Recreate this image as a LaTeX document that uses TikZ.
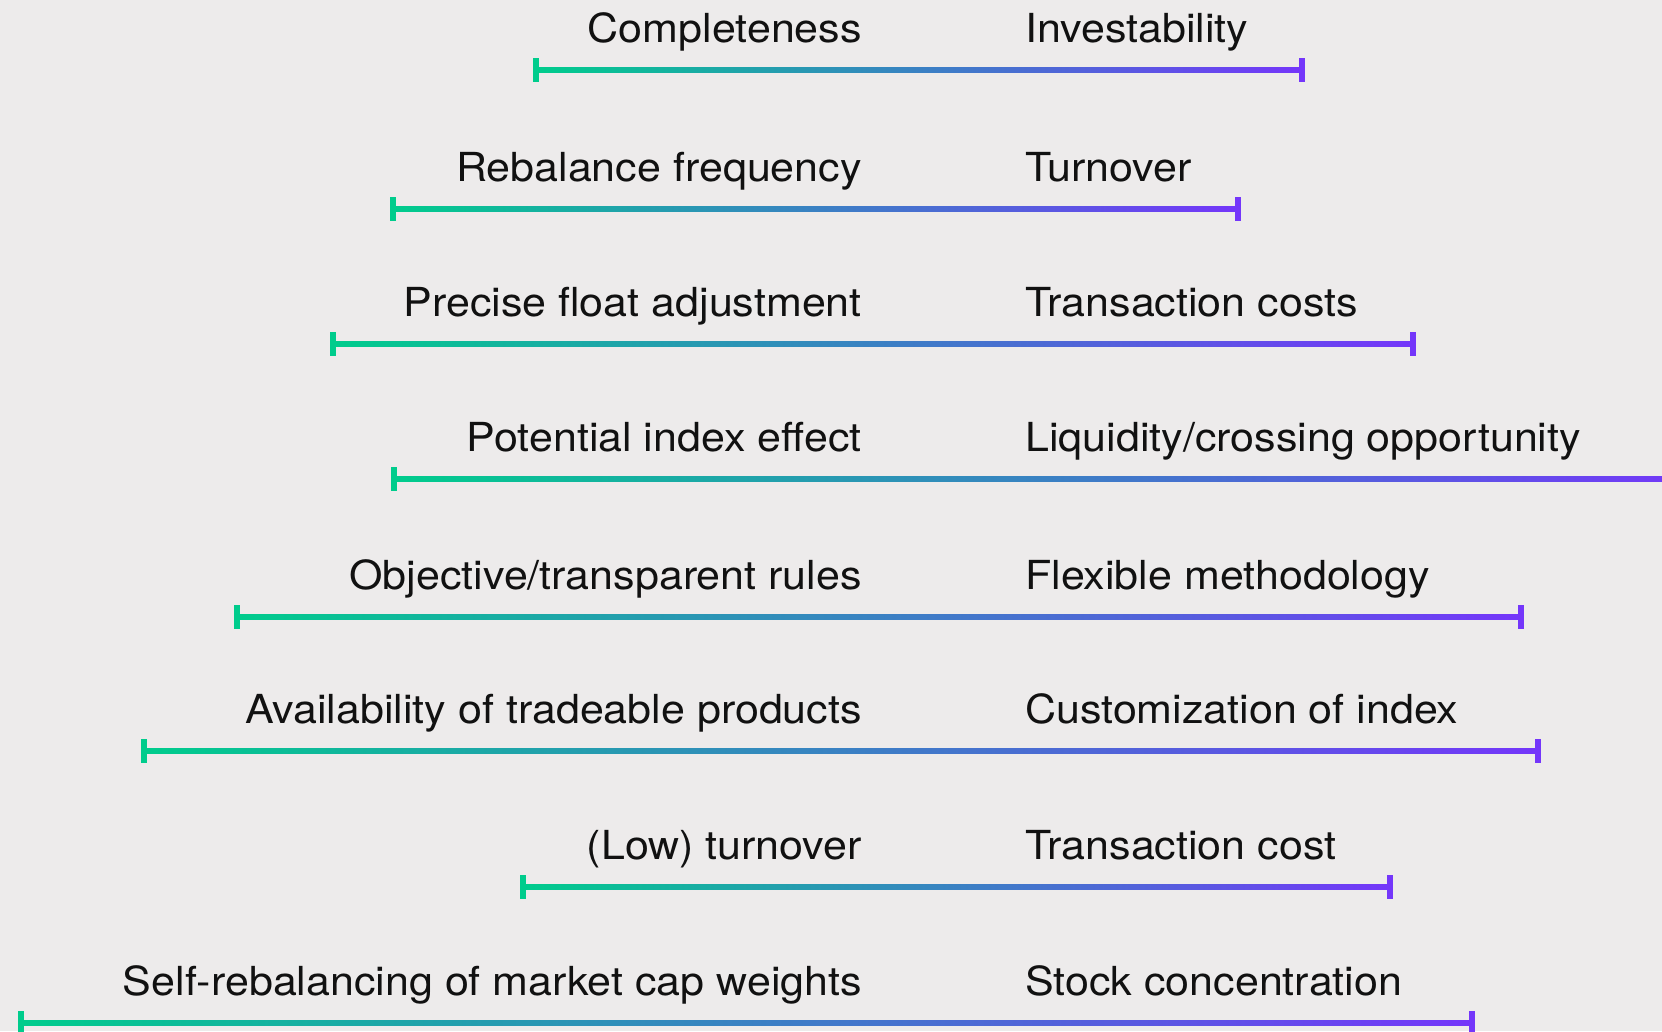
\documentclass[tikz,border=0pt]{standalone}
\usepackage{fontspec}
\setmainfont{TeX Gyre Heros}[FakeStretch=1.075]
\definecolor{bg}{HTML}{EDEBEB}
\definecolor{gstart}{HTML}{00CC8C}
\definecolor{gend}{HTML}{7436FA}
\definecolor{ink}{HTML}{111111}
\tikzset{
  lbl/.style={inner sep=0pt, text=ink, font=\fontsize{40}{40}\selectfont},
  leftlbl/.style={lbl, anchor=base east},
  rightlbl/.style={lbl, anchor=base west},
}
\begin{document}
\begin{tikzpicture}[x=1pt,y=-1pt]
\fill[bg] (0,0) rectangle (1662,1031);
\useasboundingbox (0,0) rectangle (1662,1031);
\foreach \i/\y/\xa/\xb/\lt/\rt in {
 1/70/536/1302/{Completeness}/{Investability},
 2/209/393/1238/{Rebalance frequency}/{Turnover},
 3/344/333/1413/{Precise float adjustment}/{Transaction costs},
 4/479/394/1700/{Potential index effect}/{Liquidity/crossing opportunity},
 5/617/237/1521/{Objective/transparent rules}/{Flexible methodology},
 6/751/144/1538/{Availability of tradeable products}/{Customization of index},
 7/887/523/1390/{(Low) turnover}/{Transaction cost},
 8/1023/21/1472/{Self-rebalancing of market cap weights}/{Stock concentration}}{
  \node[leftlbl] (L\i) at (862,\y-28) {\lt};
  \node[rightlbl] (R\i) at (1025,\y-28) {\rt};
  \coordinate (A\i) at (\xa,\y);
  \coordinate (B\i) at (\xb,\y);
  \shade[left color=gstart, right color=gend] ([yshift=2.6pt]A\i) rectangle ([yshift=-2.6pt]B\i);
  \fill[gstart] ([xshift=-2.6pt,yshift=12pt]A\i) rectangle ([xshift=2.6pt,yshift=-12pt]A\i);
  \ifnum\i=4\else
  \fill[gend] ([xshift=-2.6pt,yshift=12pt]B\i) rectangle ([xshift=2.6pt,yshift=-12pt]B\i);
  \fi
}
\end{tikzpicture}
\end{document}
